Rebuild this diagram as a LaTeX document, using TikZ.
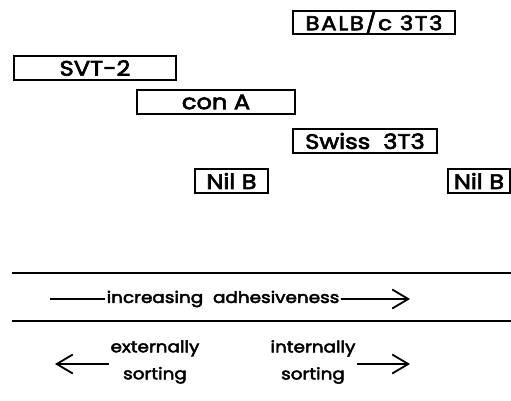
\documentclass[tikz,border=0pt]{standalone}
\usepackage{fontspec}
\setmainfont{Poppins}[FakeStretch=1.15,FakeBold=3]
\usetikzlibrary{arrows.meta}

\begin{document}
\begin{tikzpicture}[x=1pt,y=-1pt]
    \tikzset{cell/.style = {draw,line width=1.8pt,inner sep=0pt,minimum height=24pt,font=\fontsize{21}{21}\selectfont}}
    \tikzset{axistext/.style = {inner sep=1pt,align=center,font=\fontsize{16}{27}\selectfont}}
    \tikzset{edge/.style = {-{Straight Barb[length=16pt,width=19pt,line width=1.8pt]},line width=1.6pt}}
    \useasboundingbox (0,0) rectangle (511,400);
    % cell lines
    \node[cell,minimum width=162pt,minimum height=20pt,font=\fontsize{20}{20}\selectfont\addfontfeatures{LetterSpace=8}] (balb) at (374,22.5) {BALB/c 3T3};
    \node[cell,minimum width=162pt] (svt) at (95,68) {SVT-2};
    \node[cell,minimum width=158pt] (cona) at (216,102) {con A};
    \node[cell,minimum width=144pt] (swiss) at (365,141) {Swiss\ \ 3T3};
    \node[cell,minimum width=73pt] (nilA) at (231.5,181) {Nil B};
    \node[cell,minimum width=62pt] (nilB) at (479,181) {Nil B};
    % scale
    \coordinate (topL) at (12,273);
    \coordinate (topR) at (511,273);
    \coordinate (botL) at (12,321);
    \coordinate (botR) at (511,321);
    \node[axistext] (adh) at (223,299) {increasing\ \ adhesiveness};
    \coordinate (adhL) at (50,299);
    \coordinate (adhR) at (410,299);
    \node[axistext] (ext) at (155,362) {externally\\sorting};
    \node[axistext] (int) at (313,362) {internally\\sorting};
    \coordinate (extL) at (55,364);
    \coordinate (intR) at (410,364);
    %edges
    \draw[line width=1.6pt] (topL) -- (topR);
    \draw[line width=1.6pt] (botL) -- (botR);
    \draw[line width=1.6pt] (adhL) -- (adh.west);
    \draw[edge] (adh.east) -- (adhR);
    \draw[edge] (ext.west |- extL) -- (extL);
    \draw[edge] (int.east |- intR) -- (intR);
\end{tikzpicture}
\end{document}
